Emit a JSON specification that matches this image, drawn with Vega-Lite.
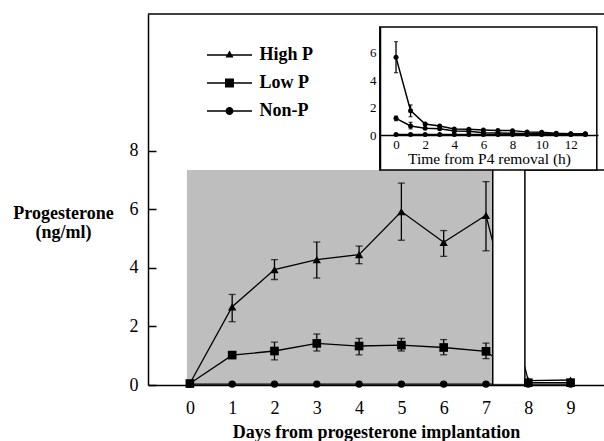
{
  "$schema": "https://vega.github.io/schema/vega-lite/v6.json",
  "autosize": {"type": "none"},
  "padding": {"left": 148, "top": 14, "right": 0, "bottom": 56},
  "width": 456,
  "height": 371,
  "background": "white",
  "config": {
    "view": {"stroke": null},
    "font": "Liberation Serif, Times New Roman, Times, serif",
    "axis": {"grid": false, "domainColor": "black", "domainWidth": 1.5, "tickColor": "black", "labelColor": "black", "titleColor": "black", "labelFont": "Liberation Serif, Times New Roman, Times, serif", "titleFont": "Liberation Serif, Times New Roman, Times, serif"}
  },
  "datasets": {
    "main": [
      {"g": "High P", "d": 0, "m": 0.05},
      {"g": "High P", "d": 1, "m": 2.67, "lo": 2.16, "hi": 3.09},
      {"g": "High P", "d": 2, "m": 3.94, "lo": 3.6, "hi": 4.28},
      {"g": "High P", "d": 3, "m": 4.28, "lo": 3.65, "hi": 4.88},
      {"g": "High P", "d": 4, "m": 4.45, "lo": 4.14, "hi": 4.74},
      {"g": "High P", "d": 5, "m": 5.92, "lo": 4.94, "hi": 6.89},
      {"g": "High P", "d": 6, "m": 4.87, "lo": 4.39, "hi": 5.27},
      {"g": "High P", "d": 7, "m": 5.79, "lo": 4.58, "hi": 6.94},
      {"g": "High P", "d": 8, "m": 0.15},
      {"g": "High P", "d": 9, "m": 0.17},
      {"g": "Low P", "d": 0, "m": 0.05},
      {"g": "Low P", "d": 1, "m": 1.02},
      {"g": "Low P", "d": 2, "m": 1.16, "lo": 0.86, "hi": 1.46},
      {"g": "Low P", "d": 3, "m": 1.42, "lo": 1.16, "hi": 1.74},
      {"g": "Low P", "d": 4, "m": 1.33, "lo": 1.03, "hi": 1.59},
      {"g": "Low P", "d": 5, "m": 1.36, "lo": 1.16, "hi": 1.59},
      {"g": "Low P", "d": 6, "m": 1.28, "lo": 1.03, "hi": 1.55},
      {"g": "Low P", "d": 7, "m": 1.15, "lo": 0.9, "hi": 1.43},
      {"g": "Low P", "d": 8, "m": 0.08},
      {"g": "Low P", "d": 9, "m": 0.08},
      {"g": "Non-P", "d": 0, "m": 0.03},
      {"g": "Non-P", "d": 1, "m": 0.03},
      {"g": "Non-P", "d": 2, "m": 0.03},
      {"g": "Non-P", "d": 3, "m": 0.03},
      {"g": "Non-P", "d": 4, "m": 0.03},
      {"g": "Non-P", "d": 5, "m": 0.03},
      {"g": "Non-P", "d": 6, "m": 0.03},
      {"g": "Non-P", "d": 7, "m": 0.03},
      {"g": "Non-P", "d": 8, "m": 0.03},
      {"g": "Non-P", "d": 9, "m": 0.03}
    ],
    "inset": [
      {"g": "High P", "h": 0, "m": 5.68, "lo": 4.56, "hi": 6.83},
      {"g": "High P", "h": 1, "m": 1.78, "lo": 1.34, "hi": 2.2},
      {"g": "High P", "h": 2, "m": 0.8},
      {"g": "High P", "h": 3, "m": 0.66},
      {"g": "High P", "h": 4, "m": 0.44},
      {"g": "High P", "h": 5, "m": 0.42},
      {"g": "High P", "h": 6, "m": 0.37},
      {"g": "High P", "h": 7, "m": 0.33},
      {"g": "High P", "h": 8, "m": 0.32},
      {"g": "High P", "h": 9, "m": 0.22},
      {"g": "High P", "h": 10, "m": 0.2},
      {"g": "High P", "h": 11, "m": 0.12},
      {"g": "High P", "h": 12, "m": 0.1},
      {"g": "High P", "h": 13, "m": 0.1},
      {"g": "Low P", "h": 0, "m": 1.22, "lo": 1.05, "hi": 1.38},
      {"g": "Low P", "h": 1, "m": 0.66, "lo": 0.45, "hi": 0.93},
      {"g": "Low P", "h": 2, "m": 0.49},
      {"g": "Low P", "h": 3, "m": 0.46},
      {"g": "Low P", "h": 4, "m": 0.29},
      {"g": "Low P", "h": 5, "m": 0.27},
      {"g": "Low P", "h": 6, "m": 0.17},
      {"g": "Low P", "h": 7, "m": 0.14},
      {"g": "Low P", "h": 8, "m": 0.12},
      {"g": "Low P", "h": 9, "m": 0.1},
      {"g": "Low P", "h": 10, "m": 0.1},
      {"g": "Low P", "h": 11, "m": 0.08},
      {"g": "Low P", "h": 12, "m": 0.07},
      {"g": "Low P", "h": 13, "m": 0.07},
      {"g": "Non-P", "h": 0, "m": 0.03},
      {"g": "Non-P", "h": 1, "m": 0.03},
      {"g": "Non-P", "h": 2, "m": 0.03},
      {"g": "Non-P", "h": 3, "m": 0.03},
      {"g": "Non-P", "h": 4, "m": 0.03},
      {"g": "Non-P", "h": 5, "m": 0.03},
      {"g": "Non-P", "h": 6, "m": 0.03},
      {"g": "Non-P", "h": 7, "m": 0.03},
      {"g": "Non-P", "h": 8, "m": 0.03},
      {"g": "Non-P", "h": 9, "m": 0.03},
      {"g": "Non-P", "h": 10, "m": 0.03},
      {"g": "Non-P", "h": 11, "m": 0.03},
      {"g": "Non-P", "h": 12, "m": 0.03},
      {"g": "Non-P", "h": 13, "m": 0.03}
    ],
    "shapes": [
      {"k": "gray", "x": -0.07, "x2": 7.16, "y": 0, "y2": 7.34},
      {"k": "cover", "x": 7.16, "x2": 7.92, "y": 0.04, "y2": 7.34},
      {"k": "box", "x": 4.49, "x2": 9.62, "y": 7.34, "y2": 12.22},
      {"k": "rule", "x": 7.16, "x2": 7.16, "y": 0, "y2": 7.34},
      {"k": "rule", "x": 7.92, "x2": 7.92, "y": 0, "y2": 7.34},
      {"k": "rule", "x": 7.92, "x2": 9.79, "y": 7.34, "y2": 7.34},
      {"k": "rule", "x": -0.99, "x2": 9.79, "y": 12.66, "y2": 12.66}
    ]
  },
  "layer": [
    {
      "layer": [
        {
          "data": {"name": "shapes"},
          "transform": [{"filter": "datum.k == 'gray'"}],
          "mark": {"type": "rect", "fill": "#bebebe"},
          "encoding": {
            "x": {"field": "x", "type": "quantitative", "scale": {"domain": [-0.99, 9.79], "nice": false, "zero": false},
              "axis": {"zindex": 1, "values": [0, 1, 2, 3, 4, 5, 6, 7, 8, 9], "ticks": false, "labelPadding": 14, "labelFontSize": 18, "title": "Days from progesterone implantation", "titleFontSize": 18, "titleFontWeight": "bold", "titleY": 52.5, "titleBaseline": "alphabetic"}},
            "x2": {"field": "x2"},
            "y": {"field": "y", "type": "quantitative", "scale": {"domain": [0, 12.66], "nice": false, "zero": false},
              "axis": {"zindex": 1, "values": [0, 2, 4, 6, 8], "tickSize": -8, "tickWidth": 1.5, "labelPadding": 18, "labelFontSize": 18, "title": ["Progesterone", "(ng/ml)"], "titleAngle": 0, "titleX": -85, "titleY": 204, "titleAlign": "center", "titleBaseline": "alphabetic", "titleFontSize": 18, "titleFontWeight": "bold", "titleLineHeight": 19}},
            "y2": {"field": "y2"}
          }
        },
        {
          "data": {"name": "main"},
          "mark": {"type": "line", "stroke": "black", "strokeWidth": 1.3},
          "encoding": {
            "x": {"field": "d", "type": "quantitative", "scale": {"domain": [-0.99, 9.79], "nice": false, "zero": false}},
            "y": {"field": "m", "type": "quantitative", "scale": {"domain": [0, 12.66], "nice": false, "zero": false}},
            "detail": {"field": "g"},
            "order": {"field": "d"}
          }
        },
        {
          "data": {"name": "shapes"},
          "transform": [{"filter": "datum.k == 'cover'"}],
          "mark": {"type": "rect", "fill": "white"},
          "encoding": {
            "x": {"field": "x", "type": "quantitative", "scale": {"domain": [-0.99, 9.79], "nice": false, "zero": false}},
            "x2": {"field": "x2"},
            "y": {"field": "y", "type": "quantitative", "scale": {"domain": [0, 12.66], "nice": false, "zero": false}},
            "y2": {"field": "y2"}
          }
        },
        {
          "data": {"name": "shapes"},
          "transform": [{"filter": "datum.k == 'rule'"}],
          "mark": {"type": "rule", "stroke": "black", "strokeWidth": 1.5},
          "encoding": {
            "x": {"field": "x", "type": "quantitative", "scale": {"domain": [-0.99, 9.79], "nice": false, "zero": false}},
            "x2": {"field": "x2"},
            "y": {"field": "y", "type": "quantitative", "scale": {"domain": [0, 12.66], "nice": false, "zero": false}},
            "y2": {"field": "y2"}
          }
        },
        {
          "data": {"name": "shapes"},
          "transform": [{"filter": "datum.k == 'box'"}],
          "mark": {"type": "rect", "fill": "white", "stroke": "black", "strokeWidth": 1.5},
          "encoding": {
            "x": {"field": "x", "type": "quantitative", "scale": {"domain": [-0.99, 9.79], "nice": false, "zero": false}},
            "x2": {"field": "x2"},
            "y": {"field": "y", "type": "quantitative", "scale": {"domain": [0, 12.66], "nice": false, "zero": false}},
            "y2": {"field": "y2"}
          }
        },
        {
          "data": {"name": "main"},
          "transform": [{"filter": "isValid(datum.lo)"}],
          "mark": {"type": "rule", "stroke": "black", "strokeWidth": 1.3},
          "encoding": {
            "x": {"field": "d", "type": "quantitative", "scale": {"domain": [-0.99, 9.79], "nice": false, "zero": false}},
            "y": {"field": "lo", "type": "quantitative", "scale": {"domain": [0, 12.66], "nice": false, "zero": false}},
            "y2": {"field": "hi"}
          }
        },
        {
          "data": {"name": "main"},
          "transform": [{"filter": "isValid(datum.lo)"}, {"fold": ["lo", "hi"], "as": ["end", "v"]}],
          "mark": {"type": "tick", "orient": "horizontal", "color": "black", "size": 7, "thickness": 1.3},
          "encoding": {
            "x": {"field": "d", "type": "quantitative", "scale": {"domain": [-0.99, 9.79], "nice": false, "zero": false}},
            "y": {"field": "v", "type": "quantitative", "scale": {"domain": [0, 12.66], "nice": false, "zero": false}}
          }
        },
        {
          "data": {"name": "main"},
          "transform": [{"filter": "datum.g == 'Non-P'"}],
          "mark": {"type": "point", "shape": "circle", "filled": true, "color": "black", "opacity": 1, "size": 55},
          "encoding": {
            "x": {"field": "d", "type": "quantitative", "scale": {"domain": [-0.99, 9.79], "nice": false, "zero": false}},
            "y": {"field": "m", "type": "quantitative", "scale": {"domain": [0, 12.66], "nice": false, "zero": false}}
          }
        },
        {
          "data": {"name": "main"},
          "transform": [{"filter": "datum.g == 'Low P'"}],
          "mark": {"type": "point", "shape": "square", "filled": true, "color": "black", "opacity": 1, "size": 75},
          "encoding": {
            "x": {"field": "d", "type": "quantitative", "scale": {"domain": [-0.99, 9.79], "nice": false, "zero": false}},
            "y": {"field": "m", "type": "quantitative", "scale": {"domain": [0, 12.66], "nice": false, "zero": false}}
          }
        },
        {
          "data": {"name": "main"},
          "transform": [{"filter": "datum.g == 'High P'"}],
          "mark": {"type": "point", "shape": "triangle-up", "filled": true, "color": "black", "opacity": 1, "size": 70},
          "encoding": {
            "x": {"field": "d", "type": "quantitative", "scale": {"domain": [-0.99, 9.79], "nice": false, "zero": false}},
            "y": {"field": "m", "type": "quantitative", "scale": {"domain": [0, 12.66], "nice": false, "zero": false}}
          }
        },
        {
          "data": {"name": "main"},
          "mark": {"type": "point", "filled": true, "fill": "black", "stroke": "black", "strokeWidth": 1.3, "opacity": 0, "size": 400},
          "encoding": {
            "x": {"field": "d", "type": "quantitative", "scale": {"domain": [-0.99, 9.79], "nice": false, "zero": false}},
            "y": {"field": "m", "type": "quantitative", "scale": {"domain": [0, 12.66], "nice": false, "zero": false}},
            "shape": {
              "field": "g", "type": "nominal",
              "scale": {"domain": ["High P", "Low P", "Non-P"], "range": ["M-2.25,-0.065H2.25V0.065H-2.25ZM0,-0.45L0.4,0.25L-0.4,0.25Z", "M-2.25,-0.065H2.25V0.065H-2.25ZM-0.45,-0.45H0.45V0.45H-0.45Z", "M-2.25,-0.065H2.25V0.065H-2.25ZM0.4,0A0.4,0.4,0,1,1,-0.4,0A0.4,0.4,0,1,1,0.4,0Z"]},
              "legend": {
                "title": null, "orient": "none", "legendX": 60, "legendY": 31, "padding": 0,
                "symbolOffset": 11.5, "labelOffset": 20, "symbolSize": 400, "rowPadding": 9,
                "symbolFillColor": "black", "symbolStrokeColor": "black", "symbolStrokeWidth": 0, "symbolOpacity": 1,
                "labelFont": "Liberation Serif, Times New Roman, Times, serif", "labelFontSize": 18, "labelFontWeight": "bold", "labelColor": "black",
                "encode": {"symbols": {"fill": {"value": "black"}, "opacity": {"value": 1}}}
              }
            }
          }
        }
      ]
    },
    {
      "layer": [
        {
          "data": {"name": "inset"},
          "mark": {"type": "line", "stroke": "black", "strokeWidth": 1.5},
          "encoding": {
            "x": {"field": "h", "type": "quantitative", "scale": {"domain": [-1.1, 13.87], "range": [232, 450], "nice": false, "zero": false},
              "axis": {"zindex": 2, "orient": "bottom", "offset": -250, "values": [0, 2, 4, 6, 8, 10, 12], "ticks": false, "labelPadding": 3, "labelFontSize": 13, "title": "Time from P4 removal (h)", "titleFontSize": 15.5, "titleFontWeight": "normal", "titleY": 28.5, "titleBaseline": "alphabetic"}},
            "y": {"field": "m", "type": "quantitative", "scale": {"domain": [-2.56, 7.9], "range": [156, 13], "nice": false, "zero": false},
              "axis": {"zindex": 2, "orient": "left", "offset": -232, "values": [0, 2, 4, 6], "ticks": false, "labelPadding": 4, "labelFontSize": 13, "title": null}},
            "detail": {"field": "g"},
            "order": {"field": "h"}
          }
        },
        {
          "data": {"name": "inset"},
          "transform": [{"filter": "isValid(datum.lo)"}],
          "mark": {"type": "rule", "stroke": "black", "strokeWidth": 1.3},
          "encoding": {
            "x": {"field": "h", "type": "quantitative", "scale": {"domain": [-1.1, 13.87], "range": [232, 450], "nice": false, "zero": false}},
            "y": {"field": "lo", "type": "quantitative", "scale": {"domain": [-2.56, 7.9], "range": [156, 13], "nice": false, "zero": false}},
            "y2": {"field": "hi"}
          }
        },
        {
          "data": {"name": "inset"},
          "transform": [{"filter": "isValid(datum.lo)"}, {"fold": ["lo", "hi"], "as": ["end", "v"]}],
          "mark": {"type": "tick", "orient": "horizontal", "color": "black", "size": 4, "thickness": 1.3},
          "encoding": {
            "x": {"field": "h", "type": "quantitative", "scale": {"domain": [-1.1, 13.87], "range": [232, 450], "nice": false, "zero": false}},
            "y": {"field": "v", "type": "quantitative", "scale": {"domain": [-2.56, 7.9], "range": [156, 13], "nice": false, "zero": false}}
          }
        },
        {
          "data": {"name": "inset"},
          "mark": {"type": "point", "shape": "circle", "filled": true, "color": "black", "opacity": 1, "size": 25},
          "encoding": {
            "x": {"field": "h", "type": "quantitative", "scale": {"domain": [-1.1, 13.87], "range": [232, 450], "nice": false, "zero": false}},
            "y": {"field": "m", "type": "quantitative", "scale": {"domain": [-2.56, 7.9], "range": [156, 13], "nice": false, "zero": false}}
          }
        }
      ]
    }
  ],
  "resolve": {"scale": {"x": "independent", "y": "independent"}}
}
